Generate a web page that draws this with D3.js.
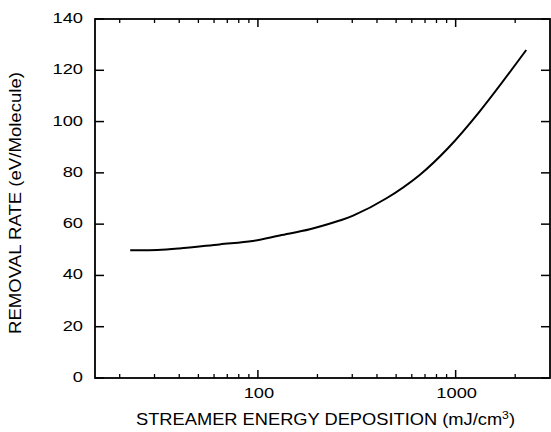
<!DOCTYPE html>
<html>
<head>
<meta charset="utf-8">
<script src="https://cdn.jsdelivr.net/npm/d3@7"></script>
<style>
  html, body { margin: 0; padding: 0; background: #fff; }
  svg { display: block; }
  text { font-family: "Liberation Sans", Arial, Helvetica, sans-serif; fill: #000; }
</style>
</head>
<body>
<svg id="chart" width="551" height="432"></svg>
<script>
// Streamer energy deposition (mJ/cm^3) and removal rate (eV/molecule)
const deposition = [22.6, 31, 40, 64, 94, 129, 183, 259, 303, 447, 658, 914, 1321, 2275];
const removalRate = [49.8, 49.9, 50.5, 52.1, 53.4, 55.6, 58.0, 61.4, 63.3, 70.1, 79.2, 89.6, 103.9, 127.9];

const xMajorTicks = [100, 1000];
const xMinorTicks = [20, 30, 40, 50, 60, 70, 80, 90, 200, 300, 400, 500, 600, 700, 800, 900, 2000];
const yTicks = [0, 20, 40, 60, 80, 100, 120, 140];

const xTitle = "STREAMER ENERGY DEPOSITION (mJ/cm";
const yTitle = "REMOVAL RATE (eV/Molecule)";

const svg = d3.select("#chart");
const plotLeft = 95, plotRight = 550, plotTop = 19, plotBottom = 378;

const x = d3.scaleLog().domain([15, 3000]).range([plotLeft, plotRight]);
const y = d3.scaleLinear().domain([0, 140]).range([plotBottom, plotTop]);

const axisWidth = 1.8;
const labelStretch = 1.18;

// frame ticks: bottom and top share the same positions, pointing inward
function xTicksOn(yPos, dir) {
  svg.append("g").selectAll("line.major").data(xMajorTicks).join("line")
    .attr("x1", d => x(d)).attr("x2", d => x(d))
    .attr("y1", yPos).attr("y2", yPos + dir * 8)
    .attr("stroke", "#000").attr("stroke-width", 1.5);
  svg.append("g").selectAll("line.minor").data(xMinorTicks).join("line")
    .attr("x1", d => x(d)).attr("x2", d => x(d))
    .attr("y1", yPos).attr("y2", yPos + dir * 4)
    .attr("stroke", "#000").attr("stroke-width", 1.3);
}
xTicksOn(plotBottom, -1);
xTicksOn(plotTop, 1);

function yTicksOn(xPos, dir) {
  svg.append("g").selectAll("line").data(yTicks).join("line")
    .attr("x1", xPos).attr("x2", xPos + dir * 9)
    .attr("y1", d => y(d)).attr("y2", d => y(d))
    .attr("stroke", "#000").attr("stroke-width", 1.5);
}
yTicksOn(plotLeft, 1);
yTicksOn(plotRight, -1);

// plot frame
svg.append("rect")
  .attr("x", plotLeft).attr("y", plotTop)
  .attr("width", plotRight - plotLeft).attr("height", plotBottom - plotTop)
  .attr("fill", "none").attr("stroke", "#000").attr("stroke-width", axisWidth);

// tick labels (wide sans face, stretched horizontally)
svg.append("g").selectAll("text").data(yTicks).join("text")
  .attr("transform", d => `translate(83,${y(d) - 1}) scale(${labelStretch},1)`)
  .attr("text-anchor", "end").attr("dominant-baseline", "central")
  .style("font-size", "15.5px")
  .text(d => d);

svg.append("g").selectAll("text").data(xMajorTicks).join("text")
  .attr("transform", d => `translate(${x(d) + 1},398) scale(${labelStretch},1)`)
  .attr("text-anchor", "middle")
  .style("font-size", "15.5px")
  .text(d => d);

// axis titles
const xt = svg.append("text")
  .attr("x", 136).attr("y", 425)
  .attr("textLength", 379).attr("lengthAdjust", "spacingAndGlyphs")
  .style("font-size", "16.5px");
xt.append("tspan").text(xTitle);
xt.append("tspan").attr("dy", -6).style("font-size", "11px").text("3");
xt.append("tspan").attr("dy", 6).text(")");

svg.append("text")
  .attr("transform", "translate(21,334) rotate(-90)")
  .attr("textLength", 262).attr("lengthAdjust", "spacingAndGlyphs")
  .style("font-size", "16.5px")
  .text(yTitle);

// removal rate curve
const line = d3.line()
  .x((d, i) => x(deposition[i]))
  .y(d => y(d))
  .curve(d3.curveCatmullRom.alpha(0.5));

svg.append("path")
  .datum(removalRate)
  .attr("d", line)
  .attr("fill", "none")
  .attr("stroke", "#000")
  .attr("stroke-width", 2);
</script>
</body>
</html>
